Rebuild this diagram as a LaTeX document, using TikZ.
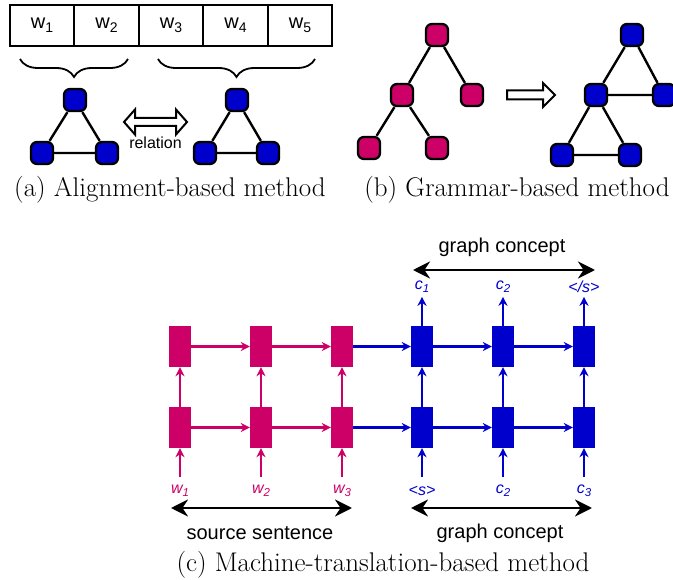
\documentclass[tikz,border=0pt]{standalone}
\usepackage{fontspec}
\setsansfont{Liberation Sans}
\usetikzlibrary{arrows.meta,decorations.pathreplacing}
\definecolor{pk}{RGB}{204,0,102}
\definecolor{bl}{RGB}{0,0,204}
\newcommand\tsub[1]{\raisebox{-4pt}{\fontsize{14}{14}\selectfont #1}}
\newcommand\lsub[1]{\raisebox{-3pt}{\fontsize{11.5}{12}\selectfont #1}}
\begin{document}
\begin{tikzpicture}[x=1pt,y=-1pt,
  gnode/.style={draw=black, line width=2.3pt, rounded corners=6pt, minimum size=22pt, inner sep=0pt},
  gedge/.style={line width=2.4pt},
  cell/.style={draw=black, line width=2pt, minimum width=64.5pt, minimum height=41pt, inner sep=0pt, font=\sffamily\fontsize{20}{22}\selectfont},
  rnn/.style={minimum width=22pt, minimum height=41pt, inner sep=0pt},
  flow/.style={line width=2.2pt, -{Stealth[length=9pt,width=9pt]}},
  span/.style={line width=2.8pt, {Stealth[length=17pt,width=17pt]}-{Stealth[length=17pt,width=17pt]}},
  captext/.style={font=\fontsize{27}{30}\selectfont},
  lab/.style={font=\sffamily\fontsize{20}{22}\selectfont},
  seq/.style={font=\sffamily\itshape\fontsize{16}{18}\selectfont},
  hollow/.style={draw=black, line width=2pt, fill=white, line join=miter},
  ]
\useasboundingbox (0,0) rectangle (673,580);

% ---------- (a) ----------
\node[cell] (c1) at (42,25.5) {w\tsub{1}};
\node[cell] (c2) at (106.5,25.5) {w\tsub{2}};
\node[cell] (c3) at (171,25.5) {w\tsub{3}};
\node[cell] (c4) at (235.5,25.5) {w\tsub{4}};
\node[cell] (c5) at (300,25.5) {w\tsub{5}};

\draw[line width=1.8pt, decorate, decoration={brace, amplitude=18pt}] (128,59) -- (20,59);
\draw[line width=1.8pt, decorate, decoration={brace, amplitude=18pt}] (315,59) -- (158,59);

\node[gnode, fill=bl] (a1) at (75,100) {};
\node[gnode, fill=bl] (a2) at (42,153) {};
\node[gnode, fill=bl] (a3) at (107,153) {};
\node[gnode, fill=bl] (b1) at (237,100) {};
\node[gnode, fill=bl] (b2) at (205,153) {};
\node[gnode, fill=bl] (b3) at (268,153) {};
\draw[gedge] (a1) -- (a2) (a1) -- (a3) (a2) -- (a3);
\draw[gedge] (b1) -- (b2) (b1) -- (b3) (b2) -- (b3);

\draw[hollow] (124,122) -- (135,109.5) -- (135,118) -- (176,118) -- (176,109.5) -- (187,122)
  -- (176,134.5) -- (176,126) -- (135,126) -- (135,134.5) -- cycle;
\node[font=\sffamily\fontsize{16}{18}\selectfont] (rel) at (155.5,143) {relation};

\node[captext] (capa) at (170,190) {(a) Alignment-based method};

% ---------- (b) ----------
\node[gnode, fill=pk] (p1) at (437,35) {};
\node[gnode, fill=pk] (p2) at (402,95) {};
\node[gnode, fill=pk] (p3) at (472,95) {};
\node[gnode, fill=pk] (p4) at (369,148) {};
\node[gnode, fill=pk] (p5) at (437,148) {};
\draw[gedge] (p1) -- (p2) (p1) -- (p3) (p2) -- (p4) (p2) -- (p5);

\draw[hollow] (507,90.5) -- (543,90.5) -- (543,83) -- (555,95) -- (543,107) -- (543,99.5) -- (507,99.5) -- cycle;

\node[gnode, fill=bl] (q1) at (632,35) {};
\node[gnode, fill=bl] (q2) at (596,95) {};
\node[gnode, fill=bl] (q3) at (664,95) {};
\node[gnode, fill=bl] (q4) at (562,155) {};
\node[gnode, fill=bl] (q5) at (630,155) {};
\draw[gedge] (q1) -- (q2) (q1) -- (q3) (q2) -- (q3) (q2) -- (q4) (q2) -- (q5) (q4) -- (q5);

\node[captext] (capb) at (517,190) {(b) Grammar-based method};

% ---------- (c) ----------
\foreach \i/\x/\c in {1/180/pk,2/261/pk,3/342/pk,4/422/bl,5/503/bl,6/584/bl}{
  \node[rnn, fill=\c] (t\i) at (\x,346.5) {};
  \node[rnn, fill=\c] (u\i) at (\x,427.5) {};
  \coordinate (in\i) at (\x,477);
  \draw[flow, draw=\c] (u\i.north) -- (t\i.south);
  \draw[flow, draw=\c] (in\i) -- (u\i.south);
}
\foreach \i/\j/\c in {1/2/pk,2/3/pk,3/4/bl,4/5/bl,5/6/bl}{
  \draw[flow, draw=\c] (t\i.east) -- (t\j.west);
  \draw[flow, draw=\c] (u\i.east) -- (u\j.west);
}
\foreach \i in {4,5,6}{
  \path (t\i.north) ++(0,-29) coordinate (out\i);
  \draw[flow, draw=bl] (t\i.north) -- (out\i);
}

\node[seq, text=bl] (o4) at (422,287) {c\lsub{1}};
\node[seq, text=bl] (o5) at (503,287) {c\lsub{2}};
\node[seq, text=bl] (o6) at (584,287) {</s>};

\node[seq, text=pk] (l1) at (180,491) {w\lsub{1}};
\node[seq, text=pk] (l2) at (261,491) {w\lsub{2}};
\node[seq, text=pk] (l3) at (342,491) {w\lsub{3}};
\node[seq, text=bl] (l4) at (422,491) {<s>};
\node[seq, text=bl] (l5) at (503,491) {c\lsub{2}};
\node[seq, text=bl] (l6) at (584,491) {c\lsub{3}};

\coordinate (g1a) at (413,270);
\coordinate (g1b) at (595,270);
\draw[span] (g1a) -- (g1b);
\node[lab] (g1t) at (502,247) {graph concept};

\coordinate (s1a) at (171,508);
\coordinate (s1b) at (352,508);
\draw[span] (s1a) -- (s1b);
\node[lab] (s1t) at (260,533) {source sentence};

\coordinate (g2a) at (411,508);
\coordinate (g2b) at (592,508);
\draw[span] (g2a) -- (g2b);
\node[lab] (g2t) at (500,533) {graph concept};

\node[captext] (capc) at (383,565) {(c) Machine-translation-based method};
\end{tikzpicture}
\end{document}
